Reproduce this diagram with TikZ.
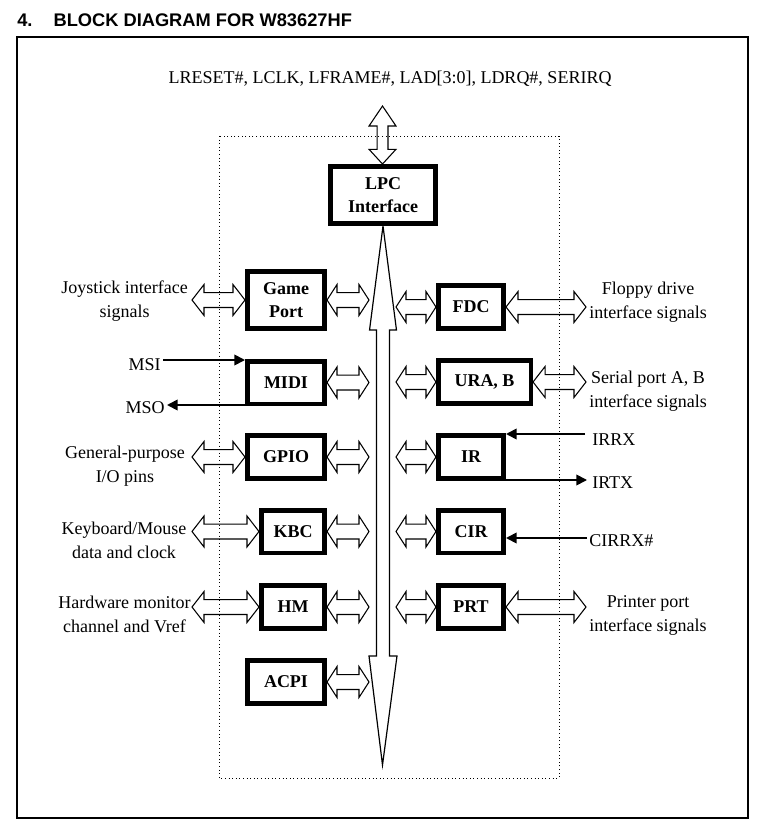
\documentclass[tikz,border=0pt]{standalone}
\usepackage{fontspec}
\setmainfont{Liberation Serif}
\newfontfamily\titlefont{Liberation Sans}
\usetikzlibrary{arrows.meta,calc}

% horizontal hollow double arrow: [head length]{left end}{right end}
\newcommand{\hdbl}[3][7.5pt]{\draw[hollow] let \p1=(#2), \p2=(#3) in
  (\x1,\y1) -- (\x1+#1,\y1+11.6pt) -- (\x1+#1,\y1+5.6pt) -- (\x2-#1,\y1+5.6pt) -- (\x2-#1,\y1+11.6pt)
  -- (\x2,\y1) -- (\x2-#1,\y1-11.6pt) -- (\x2-#1,\y1-5.6pt) -- (\x1+#1,\y1-5.6pt) -- (\x1+#1,\y1-11.6pt) -- cycle;}

\begin{document}
\begin{tikzpicture}[x=0.75pt,y=-0.75pt,
  blk/.style={draw, line width=3.4pt, inner sep=0pt, align=center,
    font=\fontsize{13.5}{17.5}\selectfont\bfseries, minimum height=31.9pt},
  wA/.style={minimum width=58.1pt},
  wB/.style={minimum width=47.6pt},
  wC/.style={minimum width=49.1pt},
  lbl/.style={inner sep=0pt, align=center, font=\fontsize{13.5}{18}\selectfont},
  sig/.style={line width=1.3pt, -{Triangle[length=8pt,width=8pt]}},
  hollow/.style={line width=0.8pt, line join=miter},
]
\useasboundingbox (0,0) rectangle (759,830);

% title and frame
\node[anchor=base west, inner sep=0pt, font=\titlefont\bfseries\fontsize{13.7}{16}\selectfont]
  (title) at (17,27) {4.\hspace*{15.8pt}BLOCK DIAGRAM FOR W83627HF};
\draw[line width=1pt] (17,37) rectangle (748,818);
\draw[dotted, line width=0.7pt] (219,136) rectangle (559,778);

% blocks
\node[blk, minimum width=79.1pt, minimum height=43.1pt] (lpc) at (383,195) {LPC\\Interface};
\node[blk, wA, minimum height=43.1pt] (game) at (286,300) {Game\\Port};
\node[blk, wA] (midi) at (286,382.5) {MIDI};
\node[blk, wA] (gpio) at (286,457) {GPIO};
\node[blk, wB] (kbc) at (293,531.5) {KBC};
\node[blk, wB] (hm) at (293,607) {HM};
\node[blk, wA] (acpi) at (286,682) {ACPI};
\node[blk, wC] (fdc) at (471,307) {FDC};
\node[blk, minimum width=69.4pt] (urab) at (484.5,382) {URA, B};
\node[blk, wC] (ir) at (471,457) {IR};
\node[blk, wC] (cir) at (471,531.5) {CIR};
\node[blk, wC] (prt) at (471,607) {PRT};

% labels
\node[lbl, anchor=base] (lpcsig) at (390,84) {LRESET\#, LCLK, LFRAME\#, LAD[3:0], LDRQ\#, SERIRQ};
\node[lbl] (joy) at (124.5,301) {Joystick interface\\signals};
\node[lbl] (gpl) at (125,466) {General-purpose\\I/O pins};
\node[lbl] (kbl) at (124,540) {Keyboard/Mouse\\data and clock};
\node[lbl] (hwl) at (124.5,614) {Hardware monitor\\channel and Vref};
\node[lbl] (fdl) at (648,302) {Floppy drive\\interface signals};
\node[lbl] (spl) at (648,391) {Serial port A, B\\interface signals};
\node[lbl] (ppl) at (648,615) {Printer port\\interface signals};
\node[lbl, anchor=base east] (msi) at (161,370) {MSI};
\node[lbl, anchor=base east] (mso) at (165,413) {MSO};
\node[lbl, anchor=base west] (irrx) at (592,445) {IRRX};
\node[lbl, anchor=base west] (irtx) at (592,488) {IRTX};
\node[lbl, anchor=base west] (cirrx) at (589,546) {CIRRX\#};

% coordinates
\coordinate (lpctop) at (382.5,106);
\coordinate (bustip) at (382.5,765);
\coordinate (busL) at (369,0);
\coordinate (busR) at (396,0);
\coordinate (extL) at (192,0);
\coordinate (extR) at (586,0);
\coordinate (msiin) at (163,360);
\coordinate (msoout) at (167,405);
\coordinate (irrxin) at (585,434);
\coordinate (irtxout) at (587,480);
\coordinate (cirin) at (587,538);

% LPC external arrow
\draw[hollow] let \p1=(lpctop), \p2=(lpc.north) in
  (\x1,\y1) -- (\x1+10.1pt,\y1-15pt) -- (\x1+4.1pt,\y1-15pt) -- (\x1+4.1pt,\y2+11pt) -- (\x1+10.1pt,\y2+11pt)
  -- (\x1,\y2) -- (\x1-10.1pt,\y2+11pt) -- (\x1-4.1pt,\y2+11pt) -- (\x1-4.1pt,\y1-15pt) -- (\x1-10.1pt,\y1-15pt) -- cycle;

% internal bus
\draw[hollow, line width=0.9pt] let \p1=(lpc.south), \p2=(bustip) in
  (\x1,\y1) -- (\x1+10.1pt,\y1-78pt) -- (\x1+4.9pt,\y1-78pt) -- (\x1+4.9pt,\y2+81.75pt) -- (\x1+10.5pt,\y2+81.75pt)
  -- (\x2,\y2) -- (\x1-10.5pt,\y2+81.75pt) -- (\x1-4.9pt,\y2+81.75pt) -- (\x1-4.9pt,\y1-78pt) -- (\x1-10.1pt,\y1-78pt) -- cycle;

% left blocks to bus
\hdbl{game.east}{busL |- game.east}
\hdbl{midi.east}{busL |- midi.east}
\hdbl{gpio.east}{busL |- gpio.east}
\hdbl{kbc.east}{busL |- kbc.east}
\hdbl{hm.east}{busL |- hm.east}
\hdbl{acpi.east}{busL |- acpi.east}
% right blocks to bus
\hdbl{busR |- fdc.west}{fdc.west}
\hdbl{busR |- urab.west}{urab.west}
\hdbl{busR |- ir.west}{ir.west}
\hdbl{busR |- cir.west}{cir.west}
\hdbl{busR |- prt.west}{prt.west}
% external signals
\hdbl[9pt]{extL |- game.west}{game.west}
\hdbl[9pt]{extL |- gpio.west}{gpio.west}
\hdbl[9pt]{extL |- kbc.west}{kbc.west}
\hdbl[9pt]{extL |- hm.west}{hm.west}
\hdbl[9pt]{fdc.east}{extR |- fdc.east}
\hdbl[9pt]{urab.east}{extR |- urab.east}
\hdbl[9pt]{prt.east}{extR |- prt.east}

% single signals
\draw[sig] (msiin) -- (midi.west |- msiin);
\draw[sig] (midi.west |- msoout) -- (msoout);
\draw[sig] (irrxin) -- (ir.east |- irrxin);
\draw[sig] (ir.east |- irtxout) -- (irtxout);
\draw[sig] (cirin) -- (cir.east |- cirin);
\end{tikzpicture}
\end{document}
